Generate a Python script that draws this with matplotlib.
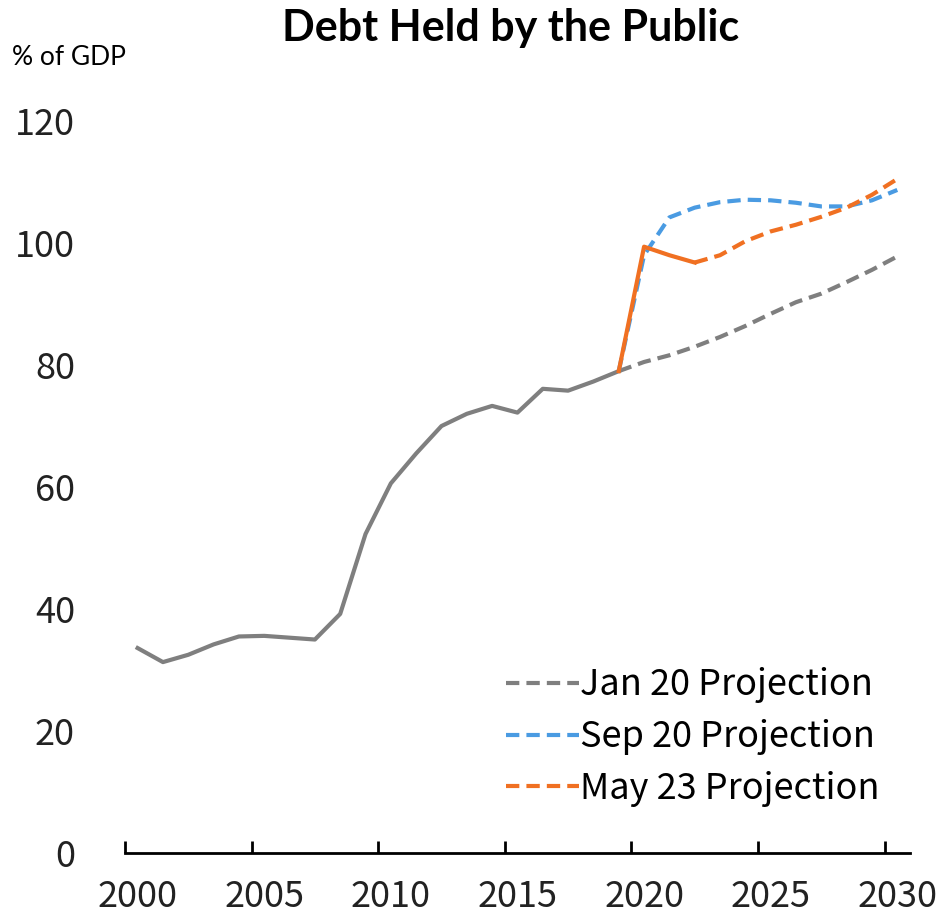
import numpy as np
import matplotlib.pyplot as plt
from matplotlib.lines import Line2D

# debt held by the public, % of GDP
hist_years = list(range(2000, 2020))
hist_vals = [33.6, 31.3, 32.5, 34.2, 35.5, 35.6, 35.3, 35.0, 39.2, 52.3,
             60.6, 65.5, 70.0, 72.0, 73.3, 72.2, 76.1, 75.8, 77.3, 79.0]

proj_years = list(range(2019, 2031))
jan20 = [79.0, 80.5, 81.6, 83.0, 84.6, 86.4, 88.4, 90.3, 91.7, 93.6, 95.6, 97.8]
sep20 = [79.0, 98.0, 104.2, 105.8, 106.7, 107.1, 107.0, 106.6, 106.0, 106.0, 107.0, 108.7]

# May 23: actuals through 2022, projection afterwards
may23_act_years = [2019, 2020, 2021, 2022]
may23_act = [79.0, 99.4, 98.0, 96.8]
may23_proj_years = list(range(2022, 2031))
may23_proj = [96.8, 98.0, 100.3, 101.9, 103.0, 104.3, 105.8, 107.9, 110.5]

label_years = [2000, 2005, 2010, 2015, 2020, 2025, 2030]

gray = '#7f7f7f'
blue = '#4a9be2'
orange = '#f07022'
lw = 3.0
dash = (3.2, 1.7)
num_font = ['Noto Sans CJK JP', 'DejaVu Sans']

# each year is a slot; points and labels sit in the middle of it
mid = lambda ys: np.array(ys) + 0.5

fig = plt.figure(figsize=(9.41, 9.21), dpi=100)
ax = fig.add_axes([0.1328, 0.0738, 0.8342, 0.7948])

ax.plot(mid(proj_years), jan20, color=gray, lw=lw, dashes=dash)
ax.plot(mid(proj_years), sep20, color=blue, lw=lw, dashes=dash)
ax.plot(mid(may23_proj_years), may23_proj, color=orange, lw=lw, dashes=dash)
ax.plot(mid(hist_years), hist_vals, color=gray, lw=lw)
ax.plot(mid(may23_act_years), may23_act, color=orange, lw=lw)

ax.set_xlim(2000, 2031)
ax.set_ylim(0, 120)
# tick marks on slot edges, labels on slot centres
ax.set_xticks(label_years)
ax.set_xticklabels([])
ax.set_xticks(mid(label_years), minor=True)
ax.set_xticklabels([str(y) for y in label_years], minor=True)
ax.set_yticks(range(0, 121, 20))
for s in ['left', 'right', 'top']:
    ax.spines[s].set_visible(False)
ax.spines['bottom'].set_linewidth(2)
ax.tick_params(axis='x', which='major', direction='in', length=9, width=2)
ax.tick_params(axis='x', which='minor', length=0, pad=19)
ax.tick_params(axis='y', length=0, pad=36)
for lab in ax.get_xticklabels(minor=True) + ax.get_yticklabels():
    lab.set_family(num_font)
    lab.set_fontsize(26)
    lab.set_color('#222222')
for lab in ax.get_yticklabels():
    lab.set_horizontalalignment('right')

handles = [Line2D([], [], color=c, lw=lw, dashes=dash) for c in (gray, blue, orange)]
names = ['Jan 20 Projection', 'Sep 20 Projection', 'May 23 Projection']
ax.legend(handles, names, loc='upper left', bbox_to_anchor=(0.519, 0.295),
          bbox_transform=fig.transFigure, frameon=False, handlelength=2.0,
          handletextpad=0.05, labelspacing=0.44, borderpad=0,
          prop={'family': num_font, 'size': 26})

fig.text(0.543, 0.97, 'Debt Held by the Public', ha='center', va='center',
         fontsize=31, fontweight='bold', family=['Lato', 'DejaVu Sans'])
fig.text(0.013, 0.938, '% of GDP', ha='left', va='center',
         fontsize=19, family=['Lato', 'DejaVu Sans'])

fig.savefig('out.png', dpi=100)
